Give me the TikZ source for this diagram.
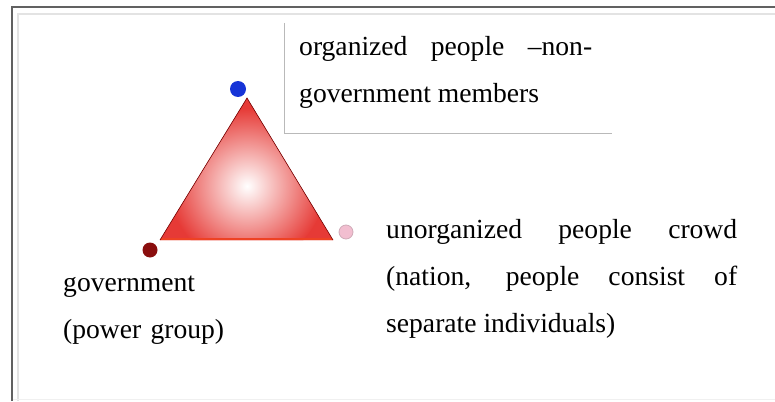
\documentclass[tikz,border=0pt]{standalone}
\usepackage{fontspec}
\setmainfont{Liberation Serif}
\definecolor{triedge}{RGB}{230,58,54}
\definecolor{tribase}{RGB}{238,66,36}
\definecolor{dotblue}{RGB}{22,52,215}
\definecolor{dotdark}{RGB}{138,14,14}
\definecolor{dotpink}{RGB}{242,190,208}
\begin{document}
\begin{tikzpicture}[x=1pt,y=-1pt,
    labeltext/.style={anchor=base west, inner sep=0pt, font=\fontsize{27.6}{47}\selectfont},
    corner/.style={circle, inner sep=0pt, minimum size=#1}]

    \useasboundingbox (0,0) rectangle (775,401);

    \draw[gray!22, line width=1.5pt] (18,401) -- (18,14) -- (775,14);
    \draw[gray!12, line width=1pt] (12,399) -- (775,399);
    \draw[black!62, line width=2.2pt] (12,401) -- (12,7) -- (775,7);

    \draw[gray!55, line width=1pt] (284,23) -- (284,133) -- (612,133);

    \begin{scope}
      \clip (160,240) -- (247,98) -- (333,240) -- cycle;
      \fill[triedge] (150,90) rectangle (345,250);
      \shade[inner color=white, outer color=triedge] (247,186) circle (78);
      \draw[tribase, line width=5pt] (150,240) -- (345,240);
    \end{scope}
    \draw[red!45!black, line width=0.6pt] (160,240) -- (247,98) -- (333,240);

    \node[corner=16pt, fill=dotblue] (organizeddot) at (238,89) {};
    \node[corner=15pt, fill=dotdark] (governmentdot) at (150,250) {};
    \node[corner=14pt, fill=dotpink, draw=dotpink!70!gray, line width=0.8pt] (crowddot) at (346,232) {};

    \node[labeltext, text width=293pt, align=justify] (organized) at (299,56)
      {organized people –non-\linebreak government members};
    \node[labeltext, text width=351pt, align=justify] (crowd) at (386,238)
      {unorganized people crowd\linebreak (nation, people consist of\linebreak separate individuals)};
    \node[labeltext, text width=200pt, align=left] (government) at (63,291)
      {government\\(power group)};

\end{tikzpicture}
\end{document}
